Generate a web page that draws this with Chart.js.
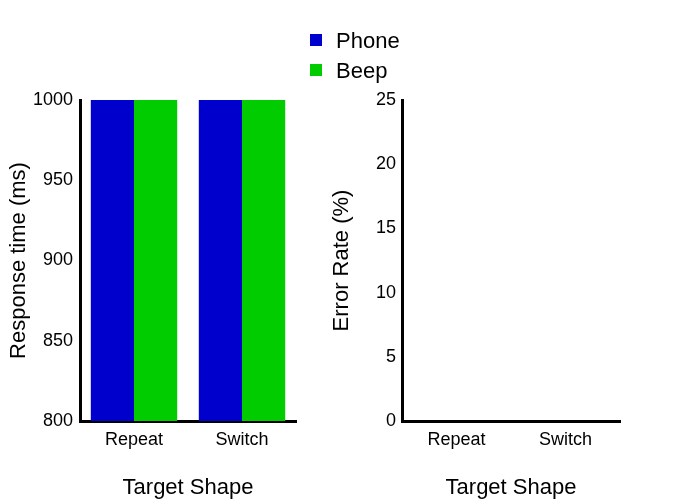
<!DOCTYPE html>
<html><head><meta charset="utf-8">
<script src="https://cdn.jsdelivr.net/npm/chart.js@4.4.1/dist/chart.umd.min.js"></script>
<style>
html,body{margin:0;padding:0;background:#fff;overflow:hidden}
#wrap{position:relative;width:700px;height:500px;background:#fff;overflow:hidden}
canvas{position:absolute;left:0;top:0}
</style></head><body>
<div id="wrap"><canvas id="c1" width="700" height="501"></canvas><canvas id="c2" width="700" height="501"></canvas></div>
<script>
// ---- data ----
const categories = ['Repeat', 'Switch'];
const seriesNames = ['Phone', 'Beep'];
const responsePhone = [1060, 1080];
const responseBeep = [1070, 1090];
const errorPhone = [0, 0];
const errorBeep = [0, 0];
const rtRange = [800, 1000];
const rtStep = 50;
const erRange = [0, 25];
const erStep = 5;
const xTitle = 'Target Shape';
const rtTitle = 'Response time (ms)';
const erTitle = 'Error Rate (%)';
const seriesColors = ['#0000cc', '#00cc00'];

const FONT = '"Liberation Sans", Arial, sans-serif';

function datasets(a, b) {
  return [a, b].map((d, i) => ({
    label: seriesNames[i], data: d, backgroundColor: seriesColors[i],
    borderWidth: 0, categoryPercentage: 0.8, barPercentage: 1.0
  }));
}

function scales(yTitle, range, step, titlePad, tickPad) {
  return {
    x: {
      type: 'category',
      grid: {display: false, drawTicks: false},
      border: {display: true, color: '#000', width: 3},
      ticks: {color: '#000', font: {family: FONT, size: 18}, padding: 8},
      title: {display: true, text: xTitle, color: '#000', font: {family: FONT, size: 22}, padding: {top: 0, bottom: 0}},
      afterFit(s) { s.height = 80; }
    },
    y: {
      min: range[0], max: range[1],
      grid: {display: false, drawTicks: false},
      border: {display: true, color: '#000', width: 3},
      ticks: {stepSize: step, color: '#000', font: {family: FONT, size: 18}, padding: tickPad,
              callback: v => String(v)},
      title: {display: true, text: yTitle, color: '#000', font: {family: FONT, size: 22}, padding: {top: titlePad, bottom: 0}},
      afterFit(s) { s.width = 80; }
    }
  };
}

const legendPlugin = {
  id: 'customLegend',
  afterDraw(chart) {
    const ctx = chart.ctx;
    ctx.save();
    chart.data.datasets.forEach((ds, i) => {
      const y = 40 + i * 30;
      ctx.fillStyle = ds.backgroundColor;
      ctx.fillRect(310, y - 6, 12, 12);
      ctx.fillStyle = '#000';
      ctx.font = '22px ' + FONT;
      ctx.textBaseline = 'middle';
      ctx.textAlign = 'left';
      ctx.fillText(ds.label, 336, y + 2);
    });
    ctx.restore();
  }
};

const common = {
  responsive: false, animation: false,
  plugins: {legend: {display: false}, tooltip: {enabled: false}}
};

new Chart(document.getElementById('c1'), {
  type: 'bar',
  data: {labels: categories, datasets: datasets(responsePhone, responseBeep)},
  options: Object.assign({}, common, {
    layout: {padding: {top: 100, left: 0, right: 404, bottom: 0}},
    scales: scales(rtTitle, rtRange, rtStep, 6, 7)
  }),
  plugins: [legendPlugin]
});

new Chart(document.getElementById('c2'), {
  type: 'bar',
  data: {labels: categories, datasets: datasets(errorPhone, errorBeep)},
  options: Object.assign({}, common, {
    layout: {padding: {top: 100, left: 322, right: 80, bottom: 0}},
    scales: scales(erTitle, erRange, erStep, 7, 6)
  })
});
</script>
</body></html>
